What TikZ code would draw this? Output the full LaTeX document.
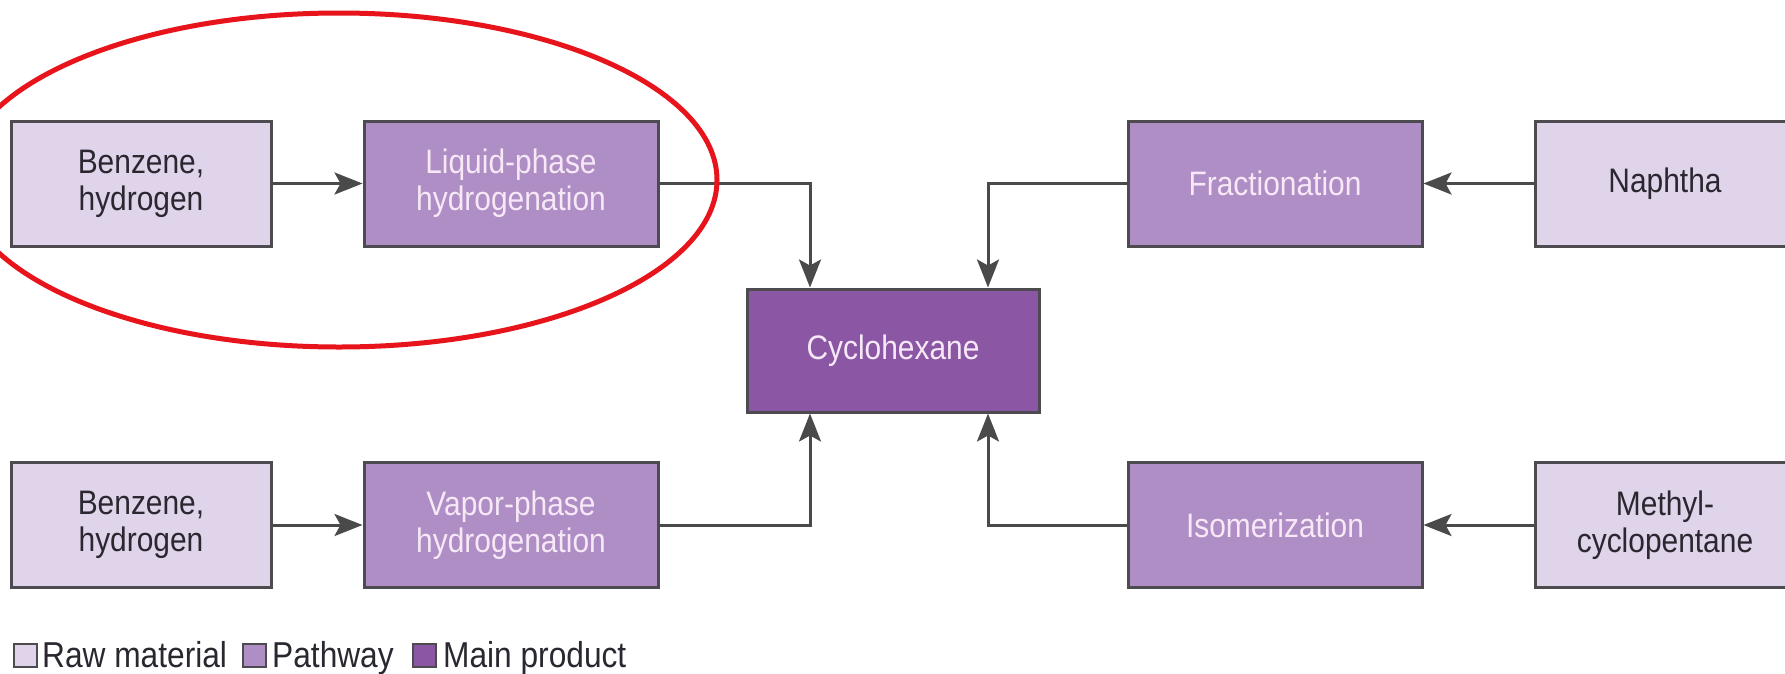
\documentclass[tikz,border=0pt]{standalone}
\usepackage{fontspec}
\setmainfont{Liberation Sans}
\newfontfamily\narrowfont[FakeStretch=0.88]{Liberation Sans}
\usetikzlibrary{arrows.meta}
\definecolor{rawc}{HTML}{E0D4EA}
\definecolor{pathc}{HTML}{AF8DC5}
\definecolor{mainc}{HTML}{8B57A5}
\definecolor{edgec}{HTML}{4D4A50}
\definecolor{linec}{HTML}{4A4A4A}
\definecolor{lighttext}{HTML}{F6E8F6}
\definecolor{darktext}{HTML}{2B2730}
\definecolor{ringc}{HTML}{E8141C}
\tikzset{
  box/.style={draw=edgec, line width=3pt, align=center, inner sep=0pt,
    minimum height=125pt, font=\narrowfont\fontsize{34}{37}\selectfont},
  rawbox/.style={box, fill=rawc, text=darktext, minimum width=260pt},
  pathbox/.style={box, fill=pathc, text=lighttext, minimum width=294pt},
  mainbox/.style={box, fill=mainc, text=lighttext, minimum width=292pt, minimum height=123pt},
  conn/.style={draw=linec, line width=3pt, -{Stealth[length=28pt,width=22pt,inset=6pt]}},
  legsq/.style={draw=edgec, line width=2pt, minimum width=23pt, minimum height=23pt, inner sep=0pt},
  legtext/.style={text=darktext, font=\narrowfont\fontsize{36}{40}\selectfont, inner sep=0pt, anchor=base west},
  ring/.style={draw=ringc, line width=5pt}
}
\begin{document}
\begin{tikzpicture}[x=1pt,y=-1pt]
\useasboundingbox[fill=white] (0,0) rectangle (1785,673);
\clip (0,0) rectangle (1785,673);
% nodes
\node[rawbox]  (b1)  at (141,183.5) {Benzene,\\hydrogen};
\node[pathbox] (liq) at (511,183.5) {Liquid-phase\\hydrogenation};
\node[mainbox] (cyc) at (893,350.5) {Cyclohexane};
\node[pathbox] (fra) at (1275,183.5) {Fractionation};
\node[rawbox]  (nap) at (1665,183.5) {Naphtha};
\node[rawbox]  (b2)  at (141,525) {Benzene,\\hydrogen};
\node[pathbox] (vap) at (511,525) {Vapor-phase\\hydrogenation};
\node[pathbox] (iso) at (1275,525) {Isomerization};
\node[rawbox]  (met) at (1665,525) {Methyl-\\cyclopentane};
% connectors
\draw[conn] (b1.east) -- (liq.west);
\draw[conn] (b2.east) -- (vap.west);
\draw[conn] (nap.west) -- (fra.east);
\draw[conn] (met.west) -- (iso.east);
\draw[conn] (liq.east) -| ([xshift=-83pt]cyc.north);
\draw[conn] (fra.west) -| ([xshift=95pt]cyc.north);
\draw[conn] (vap.east) -| ([xshift=-83pt]cyc.south);
\draw[conn] (iso.west) -| ([xshift=95pt]cyc.south);
% legend
\node[legsq, fill=rawc]  (l1) at (25,655) {};
\node[legtext] (t1) at (42,667) {Raw material};
\node[legsq, fill=pathc] (l2) at (254,655) {};
\node[legtext] (t2) at (272,667) {Pathway};
\node[legsq, fill=mainc] (l3) at (424,655) {};
\node[legtext] (t3) at (443,667) {Main product};
% highlight ring
\draw[ring] (339,180) ellipse [x radius=378pt, y radius=167pt];
\end{tikzpicture}
\end{document}
